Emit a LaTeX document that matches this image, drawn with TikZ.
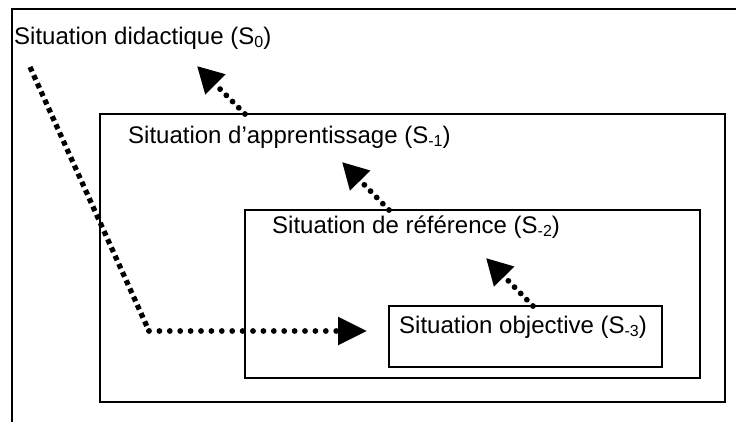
\documentclass[tikz,border=0pt]{standalone}
\usepackage{fontspec}
\setmainfont{Liberation Sans}
\usetikzlibrary{arrows.meta}
% lowered, smaller index after the S
\newcommand\lowsub[1]{\raisebox{-0.28ex}{\fontsize{16}{16}\selectfont #1}}

\tikzset{
  frameline/.style={line width=2.6pt, line cap=rect},
  box/.style={draw, line width=2.6pt, inner sep=0pt, outer sep=0pt, anchor=north west},
  label/.style={anchor=base west, inner sep=0pt, font=\fontsize{24}{28}\selectfont},
  roundDots/.style={line width=5.8pt, line cap=round, dash pattern=on 0pt off #1},
  squareDots/.style={line width=5.2pt, line cap=butt, dash pattern=on 5pt off 4pt},
  headTip/.style={-{Triangle[length=#1, width=27pt]}},
}

\begin{document}
\begin{tikzpicture}[x=1pt, y=-1pt]
  \useasboundingbox (0,0) rectangle (736,421);

  % open outer frame of the didactic situation
  \coordinate (fbl) at (12,421);
  \coordinate (ftl) at (12,9);
  \coordinate (ftr) at (736,9);
  \draw[frameline] (fbl) -- (ftl) -- (ftr);
  \node[label] (t0) at (14,44) {Situation didactique (S\lowsub{0})};

  % nested situations
  \node[box, minimum width=625pt, minimum height=288pt] (s1) at (100,114) {};
  \node[label] (t1) at (128,143) {Situation d’apprentissage (S\lowsub{-1})};

  \node[box, minimum width=455pt, minimum height=168pt] (s2) at (245,210) {};
  \node[label] (t2) at (272,233) {Situation de référence (S\lowsub{-2})};

  \node[box, minimum width=273pt, minimum height=61pt] (s3) at (389,306) {};
  \node[label] (t3) at (399,333) {Situation objective (S\lowsub{-3})};

  % arrows from each situation up to the enclosing one
  \coordinate (a1s) at (245,114);  \coordinate (a1e) at (197,66);
  \coordinate (a2s) at (389,210);  \coordinate (a2e) at (342,162);
  \coordinate (a3s) at (533,306);  \coordinate (a3e) at (486,258);
  \draw[roundDots=8.8pt, headTip=26pt] (a1s) -- (a1e);
  \draw[roundDots=8.8pt, headTip=26pt] (a2s) -- (a2e);
  \draw[roundDots=8.8pt, headTip=26pt] (a3s) -- (a3e);

  % descending path down to the objective situation
  \coordinate (d0) at (30,67);
  \coordinate (d1) at (149,331);
  \coordinate (d2) at (367,331);
  \draw[squareDots] (d0) -- (d1);
  \draw[roundDots=10.4pt, headTip=29pt] (d1) -- (d2);
\end{tikzpicture}
\end{document}
